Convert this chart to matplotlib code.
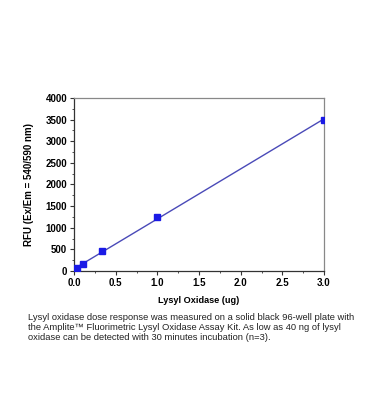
import numpy as np
import matplotlib
matplotlib.use("Agg")
import matplotlib.pyplot as plt
from matplotlib.ticker import MultipleLocator

plt.rcParams['font.family'] = ['Liberation Sans', 'DejaVu Sans']

dose_ug = [0.012, 0.037, 0.111, 0.333, 1.0, 3.0]
rfu = [40, 75, 160, 460, 1250, 3500]

x_ticks = [0.0, 0.5, 1.0, 1.5, 2.0, 2.5, 3.0]
y_ticks = [0, 500, 1000, 1500, 2000, 2500, 3000, 3500, 4000]

W, H = 369, 420
fig = plt.figure(figsize=(W / 100, H / 100), dpi=100)
ax = fig.add_axes([74 / W, 1 - 271 / H, (324 - 74) / W, (271 - 98) / H])

slope, intercept = np.polyfit(dose_ug, rfu, 1)
xs = np.array([0.0, 3.0])
ax.plot(xs, slope * xs + intercept, color='#4a4ab8', lw=1.0, zorder=2)
ax.plot(dose_ug, rfu, 's', color='#1a1ae6', ms=4, zorder=3)

ax.set_xlim(0, 3.0)
ax.set_ylim(0, 4000)
ax.set_xticks(x_ticks)
ax.set_xticklabels([f"{v:.1f}" for v in x_ticks])
ax.set_yticks(y_ticks)
ax.set_yticklabels([str(v) for v in y_ticks])
ax.xaxis.set_minor_locator(MultipleLocator(0.25))
ax.yaxis.set_minor_locator(MultipleLocator(250))
ax.tick_params(axis='both', which='major', direction='out', length=3, width=0.8,
               labelsize=7, pad=2, colors='#333333', labelcolor='black')
ax.tick_params(axis='both', which='minor', direction='out', length=1.5, width=0.6,
               colors='#333333')
for lab in ax.get_xticklabels() + ax.get_yticklabels():
    lab.set_fontweight('bold')
for s in ['left', 'bottom']:
    ax.spines[s].set_color('#333333')
    ax.spines[s].set_linewidth(0.9)
for s in ['top', 'right']:
    ax.spines[s].set_color('#888888')
    ax.spines[s].set_linewidth(0.9)

ax.set_xlabel('Lysyl Oxidase (ug)', fontsize=6.6, fontweight='bold', labelpad=6)
ax.set_ylabel('RFU (Ex/Em = 540/590 nm)', fontsize=7, fontweight='bold', labelpad=8)

caption = ("Lysyl oxidase dose response was measured on a solid black 96-well plate with\n"
           "the Amplite\u2122 Fluorimetric Lysyl Oxidase Assay Kit. As low as 40 ng of lysyl\n"
           "oxidase can be detected with 30 minutes incubation (n=3).")
fig.text(28 / W, 1 - 313 / H, caption, fontsize=6.75, va='top', ha='left',
         linespacing=1.15, color='#222222')

fig.savefig('out.png', dpi=100)
